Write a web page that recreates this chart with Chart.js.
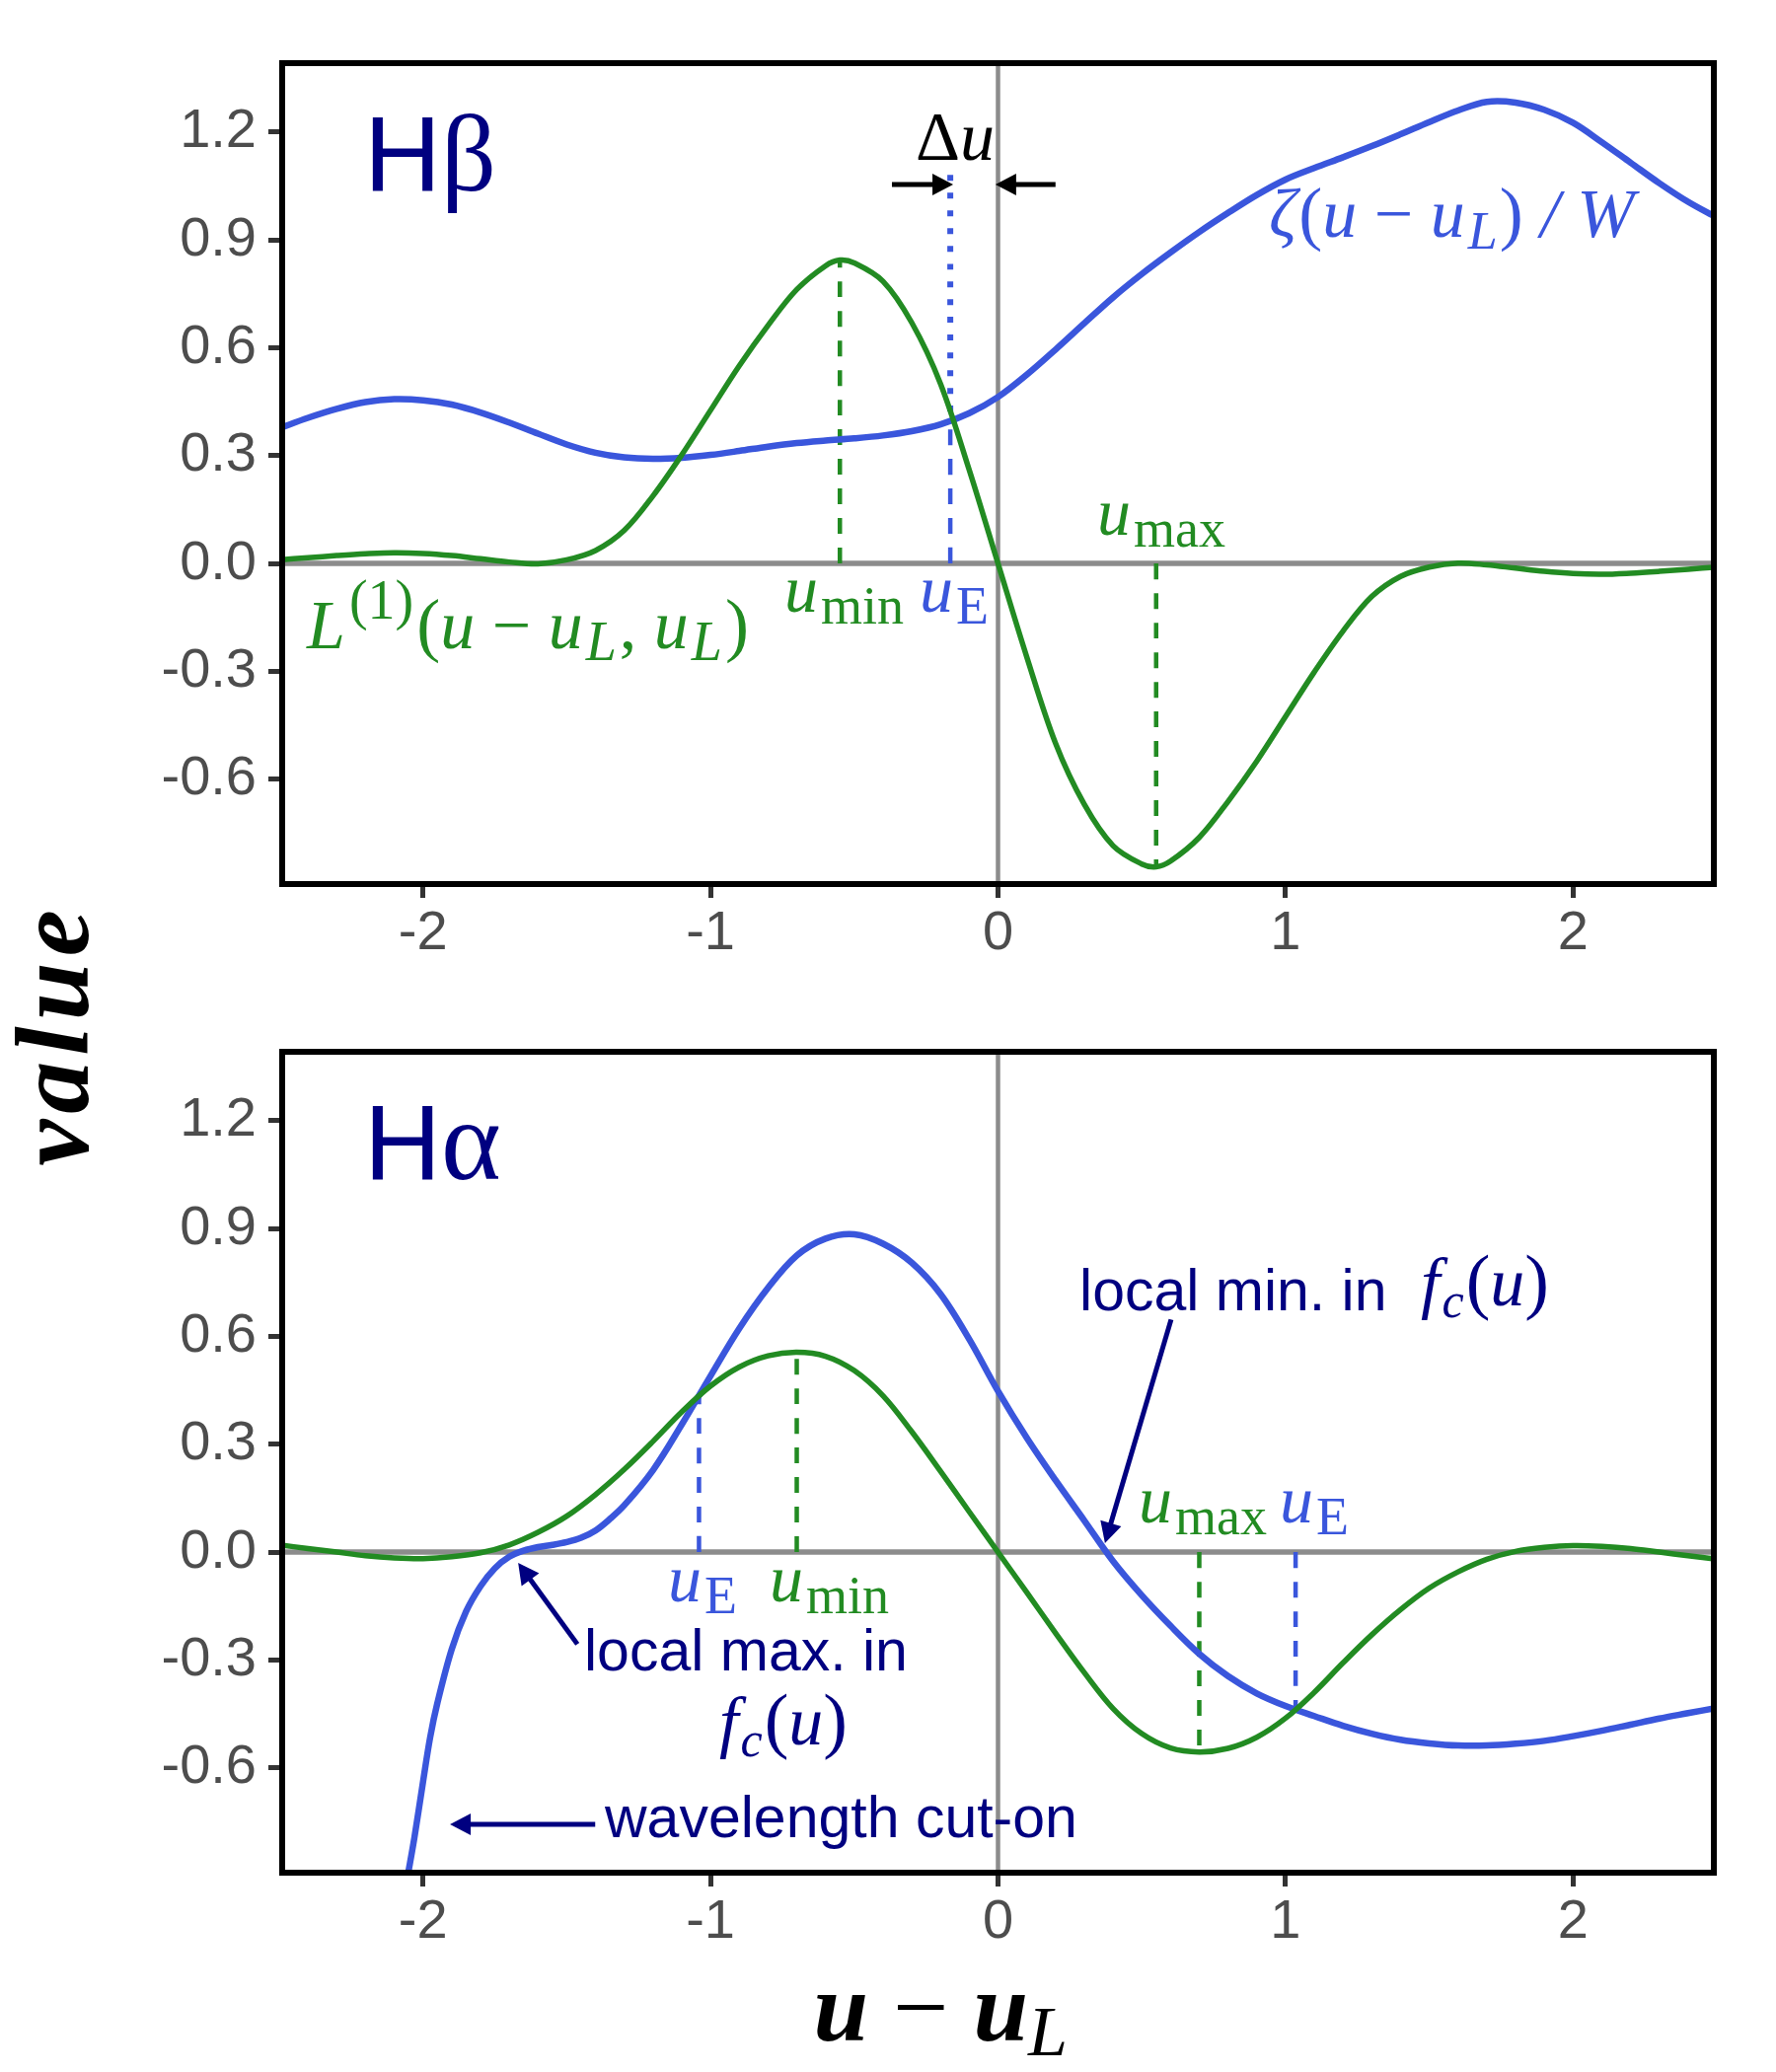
<!DOCTYPE html>
<html>
<head>
<meta charset="utf-8">
<script src="https://cdn.jsdelivr.net/npm/chart.js@4.4.1/dist/chart.umd.min.js"></script>
<style>
  html, body { margin: 0; padding: 0; background: #ffffff; }
  #wrap { position: relative; width: 1800px; height: 2100px; background: #ffffff; }
  canvas { position: absolute; left: 0; }
</style>
</head>
<body>
<div id="wrap">
  <canvas id="c2" width="1800" height="1098" style="top:1002px;width:1800px;height:1098px"></canvas>
  <canvas id="c1" width="1800" height="1200" style="top:0px;width:1800px;height:1200px"></canvas>
</div>
<script>
// ---------------- DATA ----------------
const xTicks = [-2, -1, 0, 1, 2];
const yTicks = [-0.6, -0.3, 0.0, 0.3, 0.6, 0.9, 1.2];

// H-beta panel
const hbGreenX = [-2.5,-2.4,-2.3,-2.2,-2.1,-2.0,-1.9,-1.8,-1.7,-1.6,-1.5,-1.4,-1.3,-1.2,-1.1,-1.0,-0.9,-0.8,-0.7,-0.6,-0.55,-0.5,-0.4,-0.3,-0.2,-0.1,0.0,0.1,0.2,0.3,0.4,0.5,0.55,0.6,0.7,0.8,0.9,1.0,1.1,1.2,1.3,1.4,1.5,1.6,1.7,1.8,1.9,2.0,2.1,2.2,2.3,2.4,2.5];
const hbGreenY = [0.010,0.016,0.022,0.027,0.030,0.028,0.022,0.013,0.004,-0.001,0.010,0.036,0.092,0.188,0.302,0.426,0.550,0.662,0.762,0.828,0.844,0.836,0.785,0.670,0.500,0.260,0.000,-0.260,-0.500,-0.670,-0.785,-0.836,-0.844,-0.828,-0.762,-0.662,-0.550,-0.426,-0.302,-0.188,-0.092,-0.036,-0.010,0.001,-0.004,-0.013,-0.022,-0.028,-0.030,-0.027,-0.022,-0.016,-0.010];
const hbBlueX = [-2.5,-2.4,-2.3,-2.2,-2.1,-2.0,-1.9,-1.8,-1.7,-1.6,-1.5,-1.4,-1.3,-1.2,-1.1,-1.0,-0.9,-0.8,-0.7,-0.6,-0.5,-0.4,-0.3,-0.2,-0.1,0.0,0.1,0.2,0.3,0.4,0.5,0.6,0.7,0.8,0.9,1.0,1.1,1.2,1.3,1.4,1.5,1.6,1.7,1.8,1.9,2.0,2.1,2.2,2.3,2.4,2.5];
const hbBlueY = [0.376,0.405,0.430,0.449,0.457,0.454,0.442,0.420,0.392,0.361,0.331,0.308,0.295,0.291,0.294,0.302,0.313,0.325,0.335,0.342,0.348,0.356,0.368,0.387,0.418,0.463,0.525,0.595,0.668,0.740,0.805,0.865,0.922,0.975,1.025,1.068,1.100,1.130,1.161,1.194,1.228,1.260,1.284,1.282,1.262,1.226,1.172,1.115,1.058,1.006,0.962];
// marker positions (u_min, u_E, u_max) and heights
const hbUmin = -0.55, hbUminVal = 0.844;
const hbUE = -0.166, hbUEVal = 0.396, hbDottedTop = 1.081;
const hbUmax = 0.55, hbUmaxVal = -0.844;

// H-alpha panel
const haGreenX = [-2.5,-2.4,-2.3,-2.2,-2.1,-2.0,-1.9,-1.8,-1.7,-1.6,-1.5,-1.4,-1.3,-1.2,-1.1,-1.0,-0.9,-0.8,-0.7,-0.6,-0.5,-0.4,-0.3,-0.2,-0.1,0.0,0.1,0.2,0.3,0.4,0.5,0.6,0.7,0.8,0.9,1.0,1.1,1.2,1.3,1.4,1.5,1.6,1.7,1.8,1.9,2.0,2.1,2.2,2.3,2.4,2.5];
const haGreenY = [0.020,0.010,0.000,-0.010,-0.016,-0.018,-0.013,-0.002,0.020,0.055,0.100,0.160,0.230,0.308,0.390,0.462,0.515,0.546,0.556,0.545,0.505,0.435,0.335,0.225,0.112,0.000,-0.112,-0.225,-0.335,-0.435,-0.505,-0.545,-0.556,-0.546,-0.515,-0.462,-0.390,-0.308,-0.230,-0.160,-0.100,-0.055,-0.020,0.002,0.013,0.018,0.016,0.010,0.000,-0.010,-0.020];
const haBlueX = [-2.053,-2.03,-2.0,-1.975,-1.95,-1.9,-1.85,-1.8,-1.75,-1.7,-1.65,-1.6,-1.55,-1.5,-1.45,-1.4,-1.35,-1.3,-1.2,-1.1,-1.0,-0.9,-0.8,-0.7,-0.6,-0.5,-0.4,-0.3,-0.2,-0.1,0.0,0.1,0.2,0.3,0.4,0.5,0.6,0.7,0.8,0.9,1.0,1.1,1.2,1.3,1.4,1.5,1.6,1.7,1.8,1.9,2.0,2.1,2.2,2.3,2.4,2.5];
const haBlueY = [-0.900,-0.795,-0.640,-0.515,-0.420,-0.270,-0.165,-0.095,-0.045,-0.013,0.004,0.014,0.020,0.028,0.040,0.060,0.092,0.130,0.228,0.355,0.490,0.622,0.735,0.825,0.872,0.884,0.858,0.805,0.718,0.592,0.448,0.318,0.200,0.088,-0.025,-0.120,-0.205,-0.283,-0.345,-0.393,-0.428,-0.456,-0.483,-0.505,-0.522,-0.532,-0.538,-0.538,-0.533,-0.525,-0.512,-0.497,-0.480,-0.463,-0.448,-0.433];
const haUE1 = -1.04, haUE1Val = 0.438;
const haUmin = -0.70, haUminVal = 0.556;
const haUmax = 0.70, haUmaxVal = -0.556;
const haUE2 = 1.035, haUE2Val = -0.437;

// ---------------- STYLE ----------------
const SERIF = '"Liberation Serif", "DejaVu Serif", serif';
const SANS = '"Liberation Sans", Arial, "DejaVu Sans", sans-serif';
const GREEN = '#228b22', BLUE = '#3a56dc', NAVY = '#000080', GREY = '#8c8c8c';
const it = p => `italic ${p}px ${SERIF}`;
const bi = p => `italic bold ${p}px ${SERIF}`;
const rm = p => `${p}px ${SERIF}`;
const sans = p => `${p}px ${SANS}`;

const pts = (xs, ys) => xs.map((x, i) => ({ x: x, y: ys[i] }));
const vline = (x, y0, y1) => [{ x: x, y: y0 }, { x: x, y: y1 }];

function drawRich(ctx, segs, x, y, color) {
  let cx = x;
  ctx.textBaseline = 'alphabetic';
  ctx.textAlign = 'left';
  for (const s of segs) {
    ctx.font = s.f;
    cx += s.dx || 0;
    ctx.fillStyle = s.c || color;
    ctx.fillText(s.t, cx, y + (s.dy || 0));
    cx += ctx.measureText(s.t).width;
  }
  return cx - x;
}
function richWidth(ctx, segs) {
  let w = 0;
  for (const s of segs) { ctx.font = s.f; w += (s.dx || 0) + ctx.measureText(s.t).width; }
  return w;
}
function drawArrow(ctx, x0, y0, x1, y1, color) {
  const ang = Math.atan2(y1 - y0, x1 - x0);
  const L = 21, W = 11;
  const c = Math.cos(ang), s = Math.sin(ang);
  const bx = x1 - L * c, by = y1 - L * s;
  ctx.strokeStyle = color; ctx.fillStyle = color;
  ctx.lineWidth = 5; ctx.lineCap = 'butt';
  ctx.beginPath(); ctx.moveTo(x0, y0); ctx.lineTo(bx + 3 * c, by + 3 * s); ctx.stroke();
  ctx.beginPath();
  ctx.moveTo(x1, y1);
  ctx.lineTo(bx + W * s, by - W * c);
  ctx.lineTo(bx - W * s, by + W * c);
  ctx.closePath(); ctx.fill();
}

const annotPlugin = {
  id: 'annot',
  afterDatasetsDraw(chart, args, opts) {
    const ctx = chart.ctx, xs = chart.scales.x, ys = chart.scales.y;
    ctx.save();
    for (const a of (opts.arrows || [])) {
      drawArrow(ctx, xs.getPixelForValue(a.x0), ys.getPixelForValue(a.y0),
                xs.getPixelForValue(a.x1), ys.getPixelForValue(a.y1), a.color);
    }
    for (const l of (opts.labels || [])) {
      drawRich(ctx, l.segs, xs.getPixelForValue(l.x), ys.getPixelForValue(l.y), l.color);
    }
    const ca = chart.chartArea;
    ctx.strokeStyle = '#000000'; ctx.lineWidth = 6;
    ctx.strokeRect(ca.left + 3, ca.top + 3, ca.right - ca.left - 6, ca.bottom - ca.top - 6);
    ctx.restore();
  },
  afterDraw(chart, args, opts) {
    const ctx = chart.ctx, ca = chart.chartArea, xs = chart.scales.x;
    ctx.save();
    if (opts.yTitle) {
      const t = opts.yTitle;
      ctx.translate(t.px, t.py);
      ctx.rotate(-Math.PI / 2);
      ctx.font = t.font; ctx.fillStyle = '#000';
      ctx.textBaseline = 'alphabetic'; ctx.textAlign = 'left';
      let w = 0;
      for (const ch of t.text) w += ctx.measureText(ch).width + t.spacing;
      w -= t.spacing;
      let cx = -w / 2;
      for (const ch of t.text) { ctx.fillText(ch, cx, 0); cx += ctx.measureText(ch).width + t.spacing; }
    }
    if (opts.xTitle) {
      const t = opts.xTitle;
      const w = richWidth(ctx, t.segs);
      drawRich(ctx, t.segs, xs.getPixelForValue(t.center) - w / 2, ca.bottom + t.below, '#000');
    }
    ctx.restore();
  }
};

function lineDs(data, color, width, dash) {
  return {
    data: data, showLine: true, borderColor: color, backgroundColor: color,
    borderWidth: width, borderDash: dash || [], pointRadius: 0, fill: false,
    tension: 0.35, clip: 0, borderCapStyle: 'butt', borderJoinStyle: 'round'
  };
}

function makeOptions(padding, xAxisHeight, annot) {
  return {
    responsive: false, maintainAspectRatio: false, animation: false, devicePixelRatio: 1,
    events: [],
    layout: { padding: padding },
    plugins: { legend: { display: false }, tooltip: { enabled: false }, annot: annot },
    scales: {
      x: {
        type: 'linear', min: -2.5, max: 2.5,
        afterBuildTicks: s => { s.ticks = xTicks.map(v => ({ value: v })); },
        afterFit: s => { s.height = xAxisHeight; },
        grid: { drawOnChartArea: false, drawTicks: true, tickLength: 11, tickWidth: 5, tickColor: '#333333' },
        border: { display: false },
        ticks: { autoSkip: false, maxRotation: 0, padding: 3, color: '#4d4d4d',
                 font: { family: SANS, size: 56 }, callback: v => String(v) }
      },
      y: {
        type: 'linear', min: -0.9, max: 1.4,
        afterBuildTicks: s => { s.ticks = yTicks.map(v => ({ value: v })); },
        afterFit: s => { s.width = 283; },
        grid: { drawOnChartArea: false, drawTicks: true, tickLength: 11, tickWidth: 5, tickColor: '#333333' },
        border: { display: false },
        ticks: { autoSkip: false, padding: 12, color: '#4d4d4d',
                 font: { family: SANS, size: 56 }, callback: v => Number(v).toFixed(1) }
      }
    }
  };
}

const subOff = 12;
function uSub(sub, main, subSize) {
  return [{ t: 'u', f: it(main) }, { t: sub, f: rm(subSize), dy: subOff, dx: 3 }];
}

// ---------------- TOP PANEL (H-beta) ----------------
const topAnnot = {
  arrows: [
    { x0: -0.369, y0: 1.054, x1: -0.156, y1: 1.054, color: '#000000' },
    { x0: 0.200, y0: 1.054, x1: -0.009, y1: 1.054, color: '#000000' }
  ],
  labels: [
    { x: -2.205, y: 1.0376, color: NAVY, segs: [{ t: 'H', f: sans(108) }, { t: 'β', f: rm(110) }] },
    { x: -0.2865, y: 1.1227, color: '#000', segs: [{ t: 'Δ', f: rm(70) }, { t: 'u', f: it(70) }] },
    { x: 0.942, y: 0.9086, color: BLUE, segs: [
        { t: 'ζ', f: it(70) }, { t: '(', f: rm(72), dx: 2 }, { t: 'u', f: it(70) }, { t: ' − ', f: rm(70) }, { t: 'u', f: it(70) },
        { t: 'L', f: it(54), dy: subOff, dx: 3 }, { t: ')', f: rm(72), dx: 2 }, { t: ' / ', f: it(70) }, { t: 'W', f: it(70) }] },
    { x: -2.404, y: -0.236, color: GREEN, segs: [
        { t: 'L', f: it(70) }, { t: '(1)', f: rm(56), dy: -30, dx: 4 },
        { t: '(', f: rm(72), dx: 3 }, { t: 'u', f: it(70) }, { t: ' − ', f: rm(70) }, { t: 'u', f: it(70) },
        { t: 'L', f: it(56), dy: subOff, dx: 3 }, { t: ', ', f: rm(70), dx: 3 }, { t: 'u', f: it(70) },
        { t: 'L', f: it(56), dy: subOff, dx: 3 }, { t: ')', f: rm(72), dx: 3 }] },
    { x: -0.743, y: -0.1345, color: GREEN, segs: uSub('min', 68, 54) },
    { x: -0.273, y: -0.1345, color: BLUE, segs: uSub('E', 68, 54) },
    { x: 0.345, y: 0.0796, color: GREEN, segs: uSub('max', 68, 54) }
  ],
  yTitle: { text: 'value', font: bi(106), spacing: 6, px: 89, py: 1052 }
};

// first dataset is drawn on top
const topDatasets = [
  lineDs(pts(hbGreenX, hbGreenY), GREEN, 5.5),
  lineDs(pts(hbBlueX, hbBlueY), BLUE, 6.5),
  lineDs(vline(hbUmin, 0, hbUminVal), GREEN, 4.5, [16, 14]),
  lineDs(vline(hbUE, 0, hbUEVal), BLUE, 4.5, [16, 14]),
  lineDs(vline(hbUE, hbDottedTop, hbUEVal), BLUE, 6, [6, 12]),
  lineDs(vline(hbUmax, 0, hbUmaxVal), GREEN, 4.5, [16, 14]),
  lineDs(vline(0, -0.9, 1.4), GREY, 4.5),
  lineDs([{ x: -2.5, y: 0 }, { x: 2.5, y: 0 }], GREY, 5.5)
];

// ---------------- BOTTOM PANEL (H-alpha) ----------------
const fcu = size => [
  { t: 'f', f: it(size) }, { t: 'c', f: it(50), dy: subOff, dx: 2 },
  { t: '(', f: rm(size + 4), dx: 2 }, { t: 'u', f: it(size) }, { t: ')', f: rm(size + 4) }
];
const botAnnot = {
  arrows: [
    { x0: 0.602, y0: 0.647, x1: 0.372, y1: 0.025, color: NAVY },
    { x0: -1.463, y0: -0.256, x1: -1.669, y1: -0.030, color: NAVY },
    { x0: -1.401, y0: -0.757, x1: -1.906, y1: -0.757, color: NAVY }
  ],
  labels: [
    { x: -2.205, y: 1.0376, color: NAVY, segs: [{ t: 'H', f: sans(108) }, { t: 'α', f: rm(116) }] },
    { x: 0.2832, y: 0.6725, color: NAVY, segs: [{ t: 'local min. in', f: sans(59) }] },
    { x: 1.4705, y: 0.686, color: NAVY, segs: fcu(70) },
    { x: 0.489, y: 0.0823, color: GREEN, segs: uSub('max', 68, 54) },
    { x: 0.980, y: 0.0823, color: BLUE, segs: uSub('E', 68, 54) },
    { x: -1.4396, y: -0.3294, color: NAVY, segs: [{ t: 'local max. in', f: sans(59) }] },
    { x: -0.9695, y: -0.5353, color: NAVY, segs: fcu(70) },
    { x: -1.3675, y: -0.7933, color: NAVY, segs: [{ t: 'wavelength cut-on', f: sans(59) }] },
    { x: -1.148, y: -0.1373, color: BLUE, segs: uSub('E', 68, 54) },
    { x: -0.7944, y: -0.1373, color: GREEN, segs: uSub('min', 68, 54) }
  ],
  xTitle: { center: -0.2, below: 167, segs: [
    { t: 'u', f: bi(100) }, { t: ' − ', f: rm(100) }, { t: 'u', f: bi(100) }, { t: 'L', f: it(72), dy: 15 }] }
};

const botDatasets = [
  lineDs(pts(haGreenX, haGreenY), GREEN, 5.5),
  lineDs(pts(haBlueX, haBlueY), BLUE, 6.5),
  lineDs(vline(haUE1, 0, haUE1Val), BLUE, 4.5, [16, 14]),
  lineDs(vline(haUmin, 0, haUminVal), GREEN, 4.5, [16, 14]),
  lineDs(vline(haUmax, 0, haUmaxVal), GREEN, 4.5, [16, 14]),
  lineDs(vline(haUE2, 0, haUE2Val), BLUE, 4.5, [16, 14]),
  lineDs(vline(0, -0.9, 1.4), GREY, 4.5),
  lineDs([{ x: -2.5, y: 0 }, { x: 2.5, y: 0 }], GREY, 5.5)
];

Chart.register(annotPlugin);
new Chart(document.getElementById('c1'), {
  type: 'scatter',
  data: { datasets: topDatasets },
  options: makeOptions({ top: 61, right: 60, bottom: 198, left: 0 }, 103, topAnnot)
});
new Chart(document.getElementById('c2'), {
  type: 'scatter',
  data: { datasets: botDatasets },
  options: makeOptions({ top: 61, right: 60, bottom: 0, left: 0 }, 199, botAnnot)
});
</script>
</body>
</html>
